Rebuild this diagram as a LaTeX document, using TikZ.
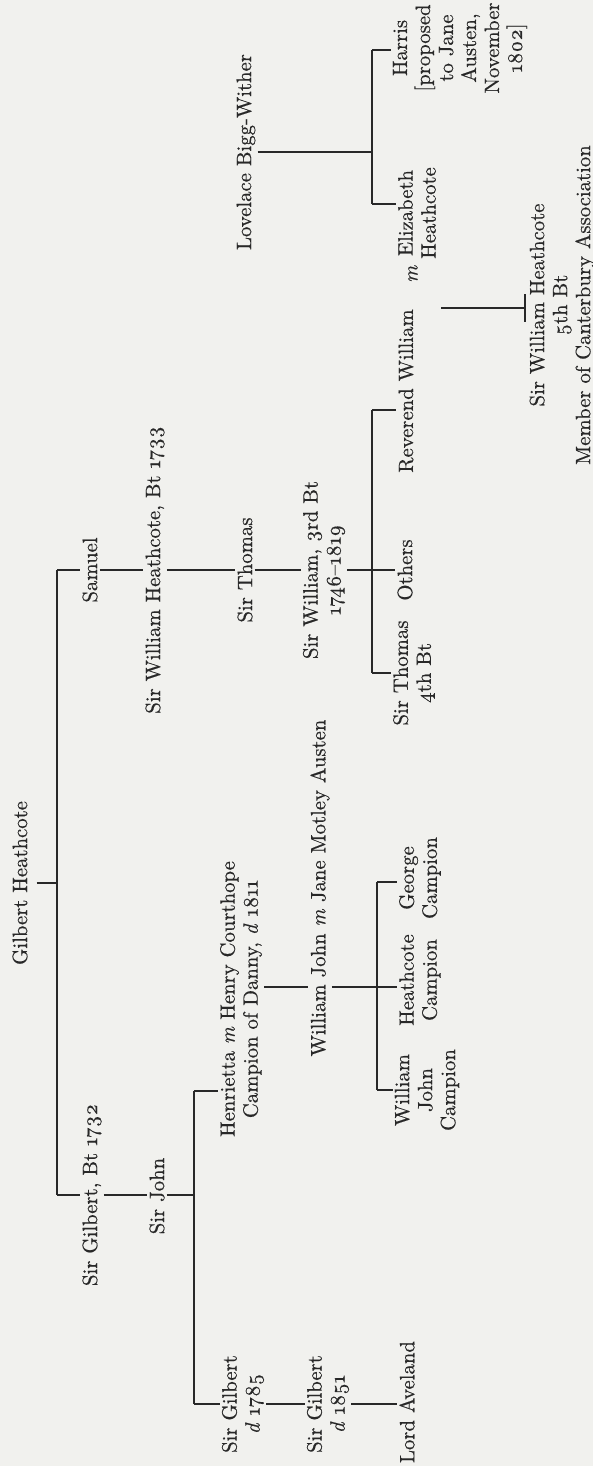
\documentclass[tikz,border=0pt]{standalone}
\usepackage{fontspec}
\setmainfont{lmroman10-regular.otf}[
  FakeBold=0.45,
  ItalicFont=lmroman10-italic.otf,
  ItalicFeatures={FakeBold=0.45}]
\usetikzlibrary{calc}
\definecolor{paper}{RGB}{241,241,238}
\definecolor{ink}{RGB}{40,40,40}
\newcommand{\osn}[1]{\oldstylenums{#1}}
\tikzset{
  person/.style={rotate=90, align=center, inner sep=2pt, text=ink,
    font=\fontsize{20.74}{23}\selectfont},
  link/.style={draw=ink, line width=2.1pt}
}
\begin{document}
\begin{tikzpicture}[x=1pt,y=-1pt]
\fill[paper] (0,0) rectangle (593,1466);
\useasboundingbox (0,0) rectangle (593,1466);

% ---- nodes ----
\node[person] (gh)   at (20,883)  {Gilbert Heathcote};
\node[person] (sam)  at (90,570)  {Samuel};
\node[person] (swh)  at (155,570) {Sir William Heathcote, Bt \osn{1733}};
\node[person] (sth)  at (245,570) {Sir Thomas};
\node[person] (sw3)  at (324,570) {Sir William, \osn{3}rd Bt\\\osn{1746}--\osn{1819}};
\node[person] (oth)  at (405,570) {Others};
\node[person] (st4)  at (414,673) {Sir Thomas\\\osn{4}th Bt};
\node[person] (rw)   at (406,391) {Reverend William};
\node[person] (rwm)  at (413,274) {\textit{m}};
\node[person] (eh)   at (417,213) {Elizabeth\\Heathcote};
\node[person] (lbw)  at (246,152) {Lovelace Bigg-Wither};
\node[person] (har)  at (460,48)  {Harris\\{[}proposed\\to Jane\\Austen,\\November\\\osn{1802}]};
\node[person] (sw5)  at (562,305) {Sir William Heathcote\\\osn{5}th Bt\\Member of Canterbury Association};

\node[person] (sg)   at (92,1195)  {Sir Gilbert, Bt \osn{1732}};
\node[person] (sj)   at (157,1196) {Sir John};
\node[person] (hen)  at (241,999)  {Henrietta \textit{m} Henry Courthope\\Campion of Danny, \textit{d} \osn{1811}};
\node[person] (wj)   at (320,888)  {William John \textit{m} Jane Motley Austen};
\node[person] (gc)   at (420,878)  {George\\Campion};
\node[person] (hc)   at (420,980)  {Heathcote\\Campion};
\node[person] (wjc)  at (427,1090) {William\\John\\Campion};
\node[person] (sg85) at (243,1404) {Sir Gilbert\\\textit{d} \osn{1785}};
\node[person] (sg51) at (328,1404) {Sir Gilbert\\\textit{d} \osn{1851}};
\node[person] (la)   at (407,1402) {Lord Aveland};

% ---- junction coordinates ----
\coordinate (m1) at (57,570);
\coordinate (m2) at (57,1195);
\coordinate (b1t) at (372,410);
\coordinate (b1b) at (372,673);
\coordinate (b2t) at (372,50);
\coordinate (b2b) at (372,204);
\coordinate (d5a) at (441,308);
\coordinate (b3t) at (194,1091);
\coordinate (b3b) at (194,1404);
\coordinate (b4t) at (377,882);
\coordinate (b4m) at (377,987);
\coordinate (b4b) at (377,1090);

% ---- connectors ----
\draw[link] (m1) -- (m2);
\draw[link] ([xshift=7pt]gh.south) -- (gh.south -| m1);

\draw[link] (m1) -- (sam.north |- m1);
\draw[link] (sam.south |- m1) -- (swh.north |- m1);
\draw[link] (swh.south |- m1) -- (sth.north |- m1);
\draw[link] (sth.south |- m1) -- (sw3.north |- m1);
\draw[link] (sw3.south |- m1) -- (b1t |- m1);
\draw[link] (b1t) -- (b1b);
\draw[link] (b1t) -- (rw.north |- b1t);
\draw[link] (b1t |- oth) -- (oth.north);
\draw[link] (b1b) -- (st4.north |- b1b);

\draw[link] (lbw.south) -- (lbw.south -| b2t);
\draw[link] (b2t) -- (b2b);
\draw[link] (b2t) -- (har.north |- b2t);
\draw[link] (b2b) -- (eh.north |- b2b);

\coordinate (d5b) at ($(sw5.north |- d5a)+(-2,0)$);
\draw[link] (d5a) -- (d5b);
\draw[link] ($(d5b)+(0,-14)$) -- ($(d5b)+(0,14)$);

\draw[link] (m2) -- (sg.north |- m2);
\draw[link] (sg.south |- m2) -- (sj.north |- m2);
\draw[link] (sj.south |- m2) -- (b3t |- m2);
\draw[link] (b3t) -- (b3b);
\draw[link] (b3t) -- (hen.north |- b3t);
\draw[link] (b3b) -- (sg85.north |- b3b);
\draw[link] (sg85.south |- b3b) -- (sg51.north |- b3b);
\draw[link] (sg51.south |- b3b) -- (la.north |- b3b);

\draw[link] (hen.south |- b4m) -- (wj.north |- b4m);
\draw[link] (wj.south |- b4m) -- (b4m);
\draw[link] (b4t) -- (b4b);
\draw[link] (b4t) -- (gc.north |- b4t);
\draw[link] (b4m) -- (hc.north |- b4m);
\draw[link] (b4b) -- (wjc.north |- b4b);
\end{tikzpicture}
\end{document}
